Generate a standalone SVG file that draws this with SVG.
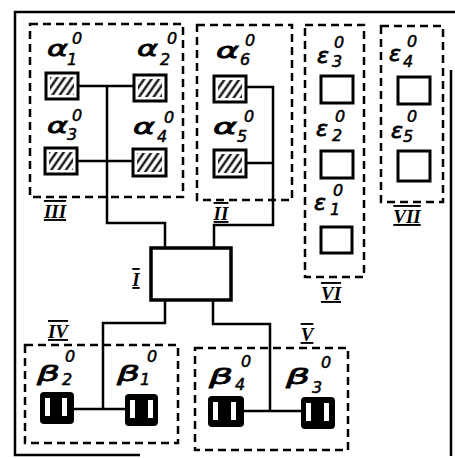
<svg xmlns="http://www.w3.org/2000/svg" width="455" height="458" viewBox="0 0 455 458">
<style>
.frame{fill:none;stroke:#000;stroke-width:2.5}
.grp{fill:none;stroke:#000;stroke-width:2.5;stroke-dasharray:8 5}
.wire{fill:none;stroke:#000;stroke-width:2.5}
.hb{fill:#fff;stroke:#000;stroke-width:3}
.eb{fill:#fff;stroke:#000;stroke-width:3}
.bb{fill:#000;stroke:#000;stroke-width:2}
.bar{fill:#fff}
.main{fill:#fff;stroke:#000;stroke-width:3.5}
.g{font-family:"DejaVu Sans",sans-serif;font-style:italic;font-size:22px;fill:#000;stroke:#000;stroke-width:0.8}
.d{font-family:"DejaVu Sans",sans-serif;font-style:italic;font-size:16px;fill:#000;stroke:#000;stroke-width:0.5}
.r{font-family:"Liberation Serif",serif;font-style:italic;font-weight:bold;font-size:19px;fill:#000;text-decoration:overline underline;text-anchor:middle}
</style>
<defs>
<pattern id="hatch" width="6" height="6" patternUnits="userSpaceOnUse" patternTransform="rotate(35)">
<line x1="1.5" y1="0" x2="1.5" y2="6" stroke="#000" stroke-width="2.2"/>
</pattern>
</defs>
<path class="frame" d="M451,70 V456 M140,455 H15 V12 H455"/>
<g id="connectors">
<path class="wire" d="M78,86 H133 M77,161 H132 M107,86 V223 H165 V248"/>
<path class="wire" d="M246,87 H273 V225 H214 V248 M246,163 H273"/>
<path class="wire" d="M165,300 V323 H103 V409 M73,409 H126"/>
<path class="wire" d="M213,300 V324 H270 V411 M243,411 H302"/>
</g>
<g id="group-III">
<rect class="grp" x="30" y="24" width="153" height="173"/>
<text class="r" x="55" y="218">III</text>
</g>
<g id="group-II">
<rect class="grp" x="197" y="25" width="95" height="175"/>
<text class="r" x="221" y="220">II</text>
</g>
<g id="group-VI">
<rect class="grp" x="305" y="25" width="59" height="252"/>
<text class="r" x="331" y="300">VI</text>
</g>
<g id="group-VII">
<rect class="grp" x="381" y="26" width="62" height="176"/>
<text class="r" x="407" y="223">VII</text>
</g>
<g id="group-IV">
<rect class="grp" x="25" y="345" width="153" height="98"/>
<text class="r" x="58" y="338">IV</text>
</g>
<g id="group-V">
<rect class="grp" x="195" y="348" width="153" height="102"/>
<text class="r" x="307" y="341">V</text>
</g>
<g id="node-I">
<rect class="main" x="151" y="248" width="80" height="52"/>
<text class="r" x="136" y="286">I</text>
</g>
<g id="alpha1">
<rect class="hb" x="46" y="73" width="32" height="26"/>
<rect x="50" y="77" width="24" height="18" fill="url(#hatch)"/>
<text class="g" x="47" y="56" textLength="21" lengthAdjust="spacingAndGlyphs">α</text>
<text class="d" x="72" y="44">0</text><text class="d" x="67" y="65">1</text>
</g>
<g id="alpha2">
<rect class="hb" x="134" y="75" width="32" height="26"/>
<rect x="138" y="79" width="24" height="18" fill="url(#hatch)"/>
<text class="g" x="137" y="56" textLength="21" lengthAdjust="spacingAndGlyphs">α</text>
<text class="d" x="167" y="44">0</text><text class="d" x="160" y="65">2</text>
</g>
<g id="alpha3">
<rect class="hb" x="45" y="148" width="32" height="26"/>
<rect x="49" y="152" width="24" height="18" fill="url(#hatch)"/>
<text class="g" x="47" y="133" textLength="21" lengthAdjust="spacingAndGlyphs">α</text>
<text class="d" x="72" y="121">0</text><text class="d" x="67" y="140">3</text>
</g>
<g id="alpha4">
<rect class="hb" x="133" y="149" width="33" height="27"/>
<rect x="137" y="153" width="25" height="19" fill="url(#hatch)"/>
<text class="g" x="133" y="134" textLength="22" lengthAdjust="spacingAndGlyphs">α</text>
<text class="d" x="164" y="123">0</text><text class="d" x="157" y="142">4</text>
</g>
<g id="alpha6">
<rect class="hb" x="214" y="76" width="32" height="26"/>
<rect x="218" y="80" width="24" height="18" fill="url(#hatch)"/>
<text class="g" x="216" y="58" textLength="23" lengthAdjust="spacingAndGlyphs">α</text>
<text class="d" x="245" y="46">0</text><text class="d" x="240" y="65">6</text>
</g>
<g id="alpha5">
<rect class="hb" x="214" y="150" width="32" height="27"/>
<rect x="218" y="154" width="24" height="19" fill="url(#hatch)"/>
<text class="g" x="213" y="134" textLength="24" lengthAdjust="spacingAndGlyphs">α</text>
<text class="d" x="244" y="122">0</text><text class="d" x="237" y="142">5</text>
</g>
<g id="eps3">
<rect class="eb" x="321" y="76" width="32" height="27"/>
<text class="g" x="317" y="63">ε</text>
<text class="d" x="334" y="48">0</text><text class="d" x="332" y="67">3</text>
</g>
<g id="eps2">
<rect class="eb" x="321" y="151" width="32" height="27"/>
<text class="g" x="316" y="136">ε</text>
<text class="d" x="335" y="122">0</text><text class="d" x="332" y="141">2</text>
</g>
<g id="eps1">
<rect class="eb" x="321" y="227" width="31" height="26"/>
<text class="g" x="314" y="210">ε</text>
<text class="d" x="333" y="196">0</text><text class="d" x="330" y="215">1</text>
</g>
<g id="eps4">
<rect class="eb" x="398" y="77" width="32" height="27"/>
<text class="g" x="389" y="61">ε</text>
<text class="d" x="407" y="47">0</text><text class="d" x="403" y="67">4</text>
</g>
<g id="eps5">
<rect class="eb" x="398" y="151" width="32" height="30"/>
<text class="g" x="391" y="138">ε</text>
<text class="d" x="407" y="122">0</text><text class="d" x="403" y="142">5</text>
</g>
<g id="beta2">
<rect class="bb" x="41" y="393" width="32" height="30" rx="3"/>
<rect class="bar" x="45" y="398" width="5" height="18"/><rect class="bar" x="62" y="398" width="5" height="18"/>
<text class="g" x="37" y="381" textLength="23" lengthAdjust="spacingAndGlyphs">β</text>
<text class="d" x="65" y="362">0</text><text class="d" x="62" y="385">2</text>
</g>
<g id="beta1">
<rect class="bb" x="126" y="395" width="31" height="30" rx="3"/>
<rect class="bar" x="130" y="400" width="5" height="18"/><rect class="bar" x="148" y="400" width="5" height="18"/>
<text class="g" x="117" y="381" textLength="23" lengthAdjust="spacingAndGlyphs">β</text>
<text class="d" x="147" y="362">0</text><text class="d" x="140" y="385">1</text>
</g>
<g id="beta4">
<rect class="bb" x="209" y="397" width="34" height="29" rx="3"/>
<rect class="bar" x="213" y="402" width="5" height="18"/><rect class="bar" x="231" y="402" width="5" height="18"/>
<text class="g" x="209" y="384" textLength="24" lengthAdjust="spacingAndGlyphs">β</text>
<text class="d" x="241" y="367">0</text><text class="d" x="235" y="390">4</text>
</g>
<g id="beta3">
<rect class="bb" x="302" y="398" width="32" height="30" rx="3"/>
<rect class="bar" x="306" y="403" width="5" height="18"/><rect class="bar" x="324" y="403" width="5" height="18"/>
<text class="g" x="286" y="384" textLength="24" lengthAdjust="spacingAndGlyphs">β</text>
<text class="d" x="321" y="368">0</text><text class="d" x="312" y="393">3</text>
</g>
</svg>
